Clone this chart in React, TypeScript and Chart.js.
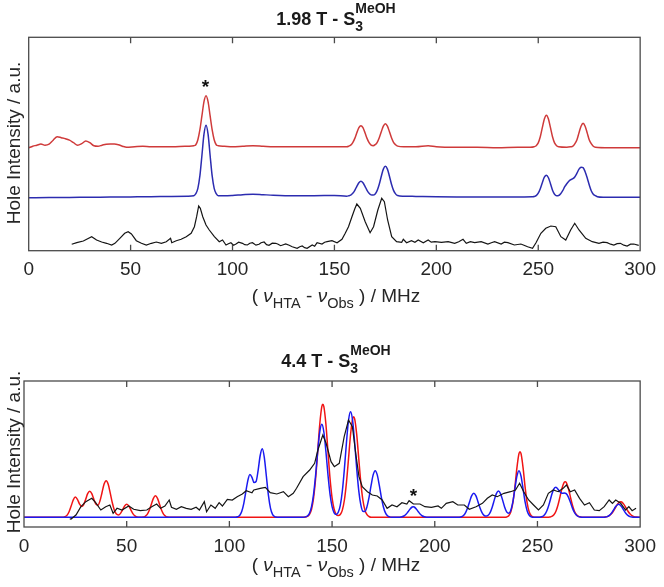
import React, { useEffect, useRef } from 'react';
import { Chart, registerables } from 'chart.js';

Chart.register(...registerables);

const FONT = "'Liberation Sans', Arial, Helvetica, sans-serif";

// x axis (MHz) tick labels, shared by both panels
const xTicks: number[] = [0, 50, 100, 150, 200, 250, 300];

// ---------- Top panel: 1.98 T (arbitrary units, traces offset vertically) ----------
const topRed: [number, number][] = [
  [0, 103], [2, 104.5], [4, 105.5], [6, 106.7], [8, 105.5], [10, 106.5], [12, 110.5], [14, 114], [16, 113], [18, 112],
  [20, 110.5], [22, 108], [24, 105.5], [26, 107], [28, 109.7], [30, 108], [32, 105], [34, 104.5], [36, 105.5], [38, 106.5],
  [40, 106.7], [42, 106.7], [44, 106], [46, 104.5], [48, 103.4], [52, 104], [56, 104.5], [60, 104], [66, 104], [72, 104],
  [78, 104.5], [81, 105], [82, 106], [83, 111], [84, 121], [85, 135], [86, 149], [87, 155], [88, 149], [89, 135],
  [90, 121], [91, 111], [92, 106], [93, 105], [96, 104.5], [100, 104], [105, 104.5], [110, 105], [115, 104.5], [120, 104],
  [130, 104], [140, 104], [150, 104], [156, 104], [157, 104.5], [158, 105.6], [159, 108], [160, 112.3], [161, 117.9], [162, 123],
  [163, 125], [164, 123], [165, 117.9], [166, 112.3], [167, 108], [168, 105.6], [169, 105], [170, 106], [171, 108.4], [172, 113],
  [173, 119], [174, 124.5], [175, 127], [176, 124.5], [177, 119], [178, 113], [179, 108.4], [180, 106], [181, 104.6], [184, 104],
  [190, 104], [196, 105], [200, 104], [210, 103.5], [220, 103.5], [230, 103], [240, 103.5], [246, 103.5], [248, 104], [249, 105],
  [250, 107.8], [251, 113.9], [252, 123], [253, 131.7], [254, 135.5], [255, 131.7], [256, 123], [257, 113.9], [258, 107.8], [259, 105],
  [260, 104], [264, 103.5], [266, 104], [267, 104.5], [268, 107], [269, 111], [270, 118], [271, 124.5], [272, 127.5], [273, 124.5],
  [274, 118], [275, 111], [276, 107], [277, 104.5], [278, 103.5], [285, 103], [300, 103],
];

const topBlue: [number, number][] = [
  [0, 53], [10, 53.2], [20, 53.3], [30, 53.5], [40, 53.6], [50, 53.8], [60, 54], [70, 54.3], [78, 54.5], [81, 55],
  [82, 57], [83, 62.4], [84, 75], [85, 95.5], [86, 116.5], [87, 125.5], [88, 116.5], [89, 95.5], [90, 75], [91, 62.4],
  [92, 57], [93, 55], [96, 55], [100, 55.3], [105, 56], [110, 56.5], [115, 56], [120, 55.5], [130, 55], [140, 55],
  [150, 55.3], [156, 54.5], [157, 54.9], [158, 55.6], [159, 57.4], [160, 60.4], [161, 64.4], [162, 68], [163, 69.5], [164, 68],
  [165, 64.4], [166, 60.4], [167, 57.4], [168, 55.8], [169, 55.6], [170, 56.8], [171, 60.3], [172, 66.4], [173, 74.4], [174, 81.6],
  [175, 84.5], [176, 81.6], [177, 74.4], [178, 66.4], [179, 60.3], [180, 56.8], [181, 55.2], [184, 54.5], [190, 54.3], [200, 54],
  [210, 53.8], [220, 53.7], [230, 53.7], [240, 53.8], [247, 54], [248, 54.2], [249, 55], [250, 57.5], [251, 62], [252, 68],
  [253, 73.5], [254, 75.5], [255, 73], [256, 67], [257, 60.5], [258, 56.5], [259, 55], [260, 55.2], [261, 57], [262, 60],
  [263, 64], [264, 67], [265, 69.5], [266, 71], [267, 72], [268, 74], [269, 77.5], [270, 81.5], [271, 83.5], [272, 83],
  [273, 79], [274, 73], [275, 66], [276, 60], [277, 56.5], [278, 55], [279, 54], [282, 53.5], [300, 53.4],
];

const topBlack: [number, number][] = [
  [21.1, 6.4], [23.6, 8], [26.8, 9.7], [30.9, 14], [33.3, 10.7], [35.8, 8.7], [38.2, 7.4], [40.7, 5.7], [42.3, 7.4], [44.7, 12.4],
  [47.1, 17.4], [48.8, 19], [50.4, 16.7], [52.8, 10], [55.3, 7.4], [57.7, 5.7], [60.2, 7.4], [62.6, 8.7], [65.1, 7.4], [67.5, 9],
  [69.6, 12.4], [70.2, 8], [72.4, 10], [74.8, 11.4], [77.3, 14], [79.7, 17.4], [81.3, 24], [82.4, 34], [83.4, 44.7], [84.2, 42.4],
  [85.4, 34], [87, 25.7], [88.6, 20.7], [91.1, 14], [93.5, 9], [95.1, 10.7], [96.8, 5.7], [98, 7], [99.2, 8], [100.5, 5.5],
  [101.7, 6.7], [103, 8.5], [104.9, 7.4], [106, 6], [107.3, 5.7], [108.5, 7.5], [109.8, 8], [111.5, 5.5], [113, 6.4], [114, 8],
  [115.5, 8.7], [116.7, 6], [117.9, 5.4], [119.5, 7.5], [121.2, 7.4], [122.4, 6.5], [123.6, 5], [126.1, 6.7], [127.8, 5.5], [129.3, 4],
  [131.7, 2.4], [133, 4], [134.2, 4.7], [135.4, 3], [136.6, 2.4], [139.1, 5.7], [140.3, 4.5], [141.5, 8], [143.9, 6.7], [145.2, 8.5],
  [146.4, 9], [148.8, 10], [151.3, 8], [153.7, 11.4], [155.3, 17.4], [156.9, 24], [158.6, 34], [160, 42], [161, 46.7], [162.7, 42.4],
  [165.1, 29], [167.5, 18], [169.2, 24], [171.3, 40.7], [173.2, 52.4], [174.5, 49], [176.1, 30.7], [178.1, 14], [180.5, 9], [183, 8.4],
  [183.8, 11.4], [185.4, 8], [187.8, 10], [189.5, 8.5], [191.1, 10.7], [193.6, 8], [196, 10.7], [197.5, 8.5], [199.3, 9], [202.5, 8.4],
  [205.8, 9], [209, 7.4], [211, 9], [213.1, 11.4], [214.7, 7.4], [216.7, 9], [218.8, 8], [222, 9], [225.3, 6.7], [227, 8],
  [228.6, 9], [231.8, 6.7], [233.4, 8.5], [235.1, 8], [238.3, 5.7], [241.5, 6.7], [243, 5.5], [244.8, 4], [247.2, 2.4], [248.9, 8],
  [251.3, 17.4], [253.7, 22.4], [256.2, 24.7], [258.6, 24], [261.1, 14], [263.5, 10.7], [265.9, 20.7], [267.9, 27.4], [270, 20.7], [273.3, 12.4],
  [276.5, 9], [279.8, 7.4], [281.8, 8.5], [283.8, 8], [285.5, 6.5], [287.1, 5.7], [288.7, 7], [290.3, 7.4], [292, 5.5], [293.6, 4.7],
  [295.3, 6.5], [296.9, 6.7], [299.3, 5.4],
];

// ---------- Bottom panel: 4.4 T ----------
const botRed: [number, number][] = [
  [0, 0], [18, 0], [19, 0.1], [20, 0.6], [21, 2.2], [22, 5.8], [23, 11.5], [24, 17.4], [25, 20.2], [26, 18],
  [27, 13.5], [28, 10.8], [29, 12.5], [30, 17.8], [31, 23.6], [32, 26], [33, 23.7], [34, 18.1], [35, 13.1], [36, 12],
  [37, 16.5], [38, 24.8], [39, 33.2], [40, 36.6], [41, 33], [42, 24.2], [43, 14.5], [44, 7.1], [45, 3.2], [46, 2.3],
  [47, 3.9], [48, 7.5], [49, 11.3], [50, 13], [51, 11.3], [52, 7.5], [53, 3.7], [54, 1.4], [55, 0.4], [56, 0],
  [57, 0], [58, 0.2], [59, 1], [60, 2.9], [61, 7], [62, 13.1], [63, 19], [64, 21.6], [65, 19], [66, 13.1],
  [67, 7], [68, 2.9], [69, 1], [70, 0.2], [71, 0], [136, 0], [137, 0.3], [138, 0.9], [139, 2.9], [140, 8.1],
  [141, 19.4], [142, 39], [143, 65.7], [144, 93], [145, 110.6], [145.5, 113], [146, 110.6], [147, 93], [148, 65.7], [149, 39],
  [150, 19.4], [151, 8.1], [152, 2.9], [153, 1.7], [154, 2.8], [155, 7.2], [156, 17.3], [157, 34.7], [158, 58.4], [159, 82.8],
  [160, 98.5], [160.5, 100.6], [161, 98.5], [162, 82.8], [163, 58.4], [164, 34.7], [165, 17.3], [166, 7.2], [167, 2.6], [168, 0.8],
  [169, 0], [234, 0], [235, 0.3], [236, 1.5], [237, 5.2], [238, 14.2], [239, 30], [240, 49.5], [241, 63.6], [241.5, 65.6],
  [242, 63.6], [243, 49.5], [244, 30], [245, 14.2], [246, 5.2], [247, 1.5], [248, 0.3], [249, 0], [255, 0], [256, 0.3],
  [257, 0.9], [258, 2.6], [259, 6.1], [260, 12.3], [261, 20.7], [262, 29.3], [263, 34.9], [263.5, 35.6], [264, 34.9], [265, 29.3],
  [266, 20.7], [267, 12.3], [268, 6.1], [269, 2.6], [270, 0.9], [271, 0.3], [272, 0], [282, 0], [283, 0.2], [284, 0.7],
  [285, 1.7], [286, 3.5], [287, 6.3], [288, 9.8], [289, 13.2], [290, 15.3], [290.5, 15.6], [291, 15.3], [292, 13.2], [293, 9.8],
  [294, 6.3], [295, 3.5], [296, 1.7], [297, 0.7], [298, 0.2], [300, 0],
];

const botBlue: [number, number][] = [
  [0, 0], [103, 0], [104, 0.5], [105, 1.8], [106, 5.7], [107, 13.7], [108, 25.5], [109, 37], [110, 42.8], [111, 40],
  [112, 34.7], [113, 35.8], [114, 47], [115, 61.8], [116, 68.5], [117, 60], [118, 41.3], [119, 22.1], [120, 9.2], [121, 3],
  [122, 0.75], [123, 0.15], [124, 0], [136, 0], [137, 0.4], [138, 1.3], [139, 4.1], [140, 10.6], [141, 23.2], [142, 42.6],
  [143, 65.8], [144, 85.3], [145, 93], [146, 85.3], [147, 65.8], [148, 42.6], [149, 23.2], [150, 10.7], [151, 4.5], [152, 2.8],
  [153, 5], [154, 12], [155, 26.3], [156, 48.4], [157, 74.7], [158, 96.8], [159, 105.6], [160, 96.8], [161, 74.7], [162, 48.4],
  [163, 26.4], [164, 12.5], [165, 6.1], [166, 5.9], [167, 10.7], [168, 19.9], [169, 31.9], [170, 42.4], [171, 46.6], [172, 42.4],
  [173, 31.9], [174, 19.9], [175, 10.3], [176, 4.4], [177, 1.5], [178, 0.4], [179, 0], [182, 0], [183, 0.1], [184, 0.5],
  [185, 1.3], [186, 3], [187, 5.6], [188, 8.4], [189, 10.3], [189.5, 10.6], [190, 10.3], [191, 8.4], [192, 5.6], [193, 3],
  [194, 1.3], [195, 0.5], [196, 0.1], [197, 0], [211, 0], [212, 0.1], [213, 0.6], [214, 1.8], [215, 4.6], [216, 9.5],
  [217, 15.9], [218, 21.6], [219, 24], [220, 21.6], [221, 15.9], [222, 9.5], [223, 4.6], [224, 1.9], [225, 1.2], [226, 2],
  [227, 5], [228, 10.4], [229, 17.4], [230, 23.7], [231, 26.3], [232, 23.7], [233, 17.4], [234, 10.4], [235, 5.5], [236, 4.1],
  [237, 6.9], [238, 15.1], [239, 28.3], [240, 41.1], [241, 46.6], [242, 41.1], [243, 28.3], [244, 15.1], [245, 6.3], [246, 2.1],
  [247, 0.5], [248, 0], [250, 0], [251, 0.1], [252, 0.5], [253, 1.6], [254, 4.1], [255, 8.8], [256, 15.5], [257, 23],
  [258, 28.5], [259, 30], [260, 28], [261, 25.5], [262, 24], [263, 24.3], [264, 23.7], [265, 20.5], [266, 15.2], [267, 9.4],
  [268, 4.8], [269, 2.1], [270, 0.7], [271, 0.2], [272, 0], [282, 0], [283, 0.2], [284, 0.7], [285, 1.9], [286, 4.1],
  [287, 7.2], [288, 10.5], [289, 12.7], [289.5, 13], [290, 12.7], [291, 10.5], [292, 7.2], [293, 4.1], [294, 1.9], [295, 0.7],
  [296, 0.2], [297, 0], [300, 0],
];

const botBlack: [number, number][] = [
  [22.3, -1.5], [22.9, -1.7], [25.3, 2.3], [27.7, 10.6], [30.1, 15.6], [33, 19], [34.9, 14.6], [37.4, 7.3], [39.8, 10.6], [41.8, 12.3],
  [43.4, 4], [45.3, 9], [47.7, 7.3], [51, 11.3], [53.4, 8], [56.6, 6.6], [59.8, 7.3], [62.2, 10.6], [64.6, 13.3], [66.5, 9],
  [68.6, 11.3], [70.7, 17.3], [71.8, 10], [74.2, 8], [76.6, 10.6], [79, 9], [81.4, 8], [83.8, 10], [85.4, 7.3], [87.8, 15.6],
  [88.9, 5.6], [91, 12.3], [93.1, 9], [95, 14.6], [96.6, 11.3], [99, 18], [101.4, 17.3], [103.8, 20.6], [106.3, 23.3], [108.2, 26.6],
  [111, 24.6], [111.9, 27.3], [115, 29], [117.5, 30], [119.9, 24.6], [123.1, 23.3], [126.3, 25.6], [128.7, 20.6], [131.1, 24], [132.7, 29],
  [135.9, 40.6], [139.1, 47.3], [141.5, 54], [143.1, 67.3], [145.5, 82.3], [147.1, 74], [149.5, 55.6], [151.1, 50.6], [153.5, 54], [155.9, 80.6],
  [158, 97.3], [159.9, 90.6], [161.5, 64], [163.1, 40.6], [164.7, 30.6], [167.2, 25.6], [169.6, 22.3], [172, 21.3], [174.4, 17.3], [176.8, 9],
  [179.2, 12.3], [181.6, 10.6], [184, 14.6], [186.4, 13.3], [187.5, 16.6], [189.6, 13.3], [192.8, 13.3], [195.2, 10.6], [198.4, 10], [201.6, 11.3],
  [203.2, 9], [205.6, 14], [208.8, 15.6], [211.2, 12.3], [214.4, 12.3], [216.8, 8], [220.1, 10.6], [223.2, 14], [225.6, 19], [228, 22.3],
  [230.4, 20.6], [233.7, 24], [236.9, 25.6], [239.3, 27.3], [241.3, 34], [243.3, 25.6], [245.7, 17.3], [248.1, 12.3], [250.5, 7.3], [252.9, 12.3],
  [255.3, 24], [257.7, 27.3], [260.1, 25.6], [262.5, 29], [264.1, 32.3], [266, 25.6], [268.1, 27.3], [270.5, 19], [272.9, 12.3], [275.3, 14.6],
  [277.7, 7.3], [280.1, 6.6], [282.5, 10.6], [284.9, 17.3], [286.5, 14], [288.1, 17.3], [290.5, 14], [292.9, 7.3], [294.5, 10.6], [296.1, 6.6],
  [298, 9],
];

// asterisk markers (MHz, intensity)
const topStar: [number, number] = [86.7, 169];
const botStar: [number, number] = [189.6, 26.3];

const toPts = (a: [number, number][]) => a.map(([x, y]) => ({ x, y }));

const framePlugin = {
  id: 'frame',
  afterDatasetsDraw(chart: any, _args: any, opts: any) {
    const { ctx, chartArea, scales } = chart;
    const { left, right, top, bottom } = chartArea;
    ctx.save();
    ctx.strokeStyle = '#4a4a4a';
    ctx.lineWidth = 1.3;
    ctx.strokeRect(left, top, right - left, bottom - top);
    ctx.beginPath();
    xTicks.forEach((v) => {
      if (v === 0 || v === 300) return;
      const px = scales.x.getPixelForValue(v);
      ctx.moveTo(px, bottom);
      ctx.lineTo(px, bottom - 6);
      ctx.moveTo(px, top);
      ctx.lineTo(px, top + 6);
    });
    ctx.stroke();
    if (opts && opts.star) {
      const [sx, sy] = opts.star;
      ctx.fillStyle = '#111';
      ctx.font = `bold 19px ${FONT}`;
      ctx.textAlign = 'center';
      ctx.textBaseline = 'alphabetic';
      ctx.fillText('*', scales.x.getPixelForValue(sx), scales.y.getPixelForValue(sy) + 0.57 * 19);
    }
    ctx.restore();
  },
};

interface PanelSpec {
  width: number;
  height: number;
  left: number;
  right: number;
  top: number;
  bottom: number;
  yMin: number;
  yMax: number;
  red: [number, number][];
  blue: [number, number][];
  black: [number, number][];
  redColor: string;
  blueColor: string;
  star: [number, number];
}

function Panel({ spec, style }: { spec: PanelSpec; style: React.CSSProperties }) {
  const ref = useRef<HTMLCanvasElement | null>(null);
  useEffect(() => {
    if (!ref.current) return;
    const p = spec;
    const chart = new Chart(ref.current, {
      type: 'line',
      data: {
        datasets: [
          { data: toPts(p.black), borderColor: '#151515', borderWidth: 1.2, pointRadius: 0, tension: 0, fill: false },
          { data: toPts(p.blue), borderColor: p.blueColor, borderWidth: 1.5, pointRadius: 0, cubicInterpolationMode: 'monotone', fill: false },
          { data: toPts(p.red), borderColor: p.redColor, borderWidth: 1.5, pointRadius: 0, cubicInterpolationMode: 'monotone', fill: false },
        ],
      } as any,
      options: {
        animation: false,
        responsive: false,
        events: [],
        layout: { padding: { left: p.left, right: p.width - p.right, top: p.top, bottom: 0 } },
        plugins: {
          legend: { display: false },
          tooltip: { enabled: false },
          frame: { star: p.star },
        } as any,
        scales: {
          x: {
            type: 'linear',
            min: 0,
            max: 300,
            afterBuildTicks: (s: any) => {
              s.ticks = xTicks.map((v) => ({ value: v }));
            },
            grid: { display: false, drawTicks: false },
            border: { display: false },
            ticks: {
              font: { family: FONT, size: 19 },
              color: '#262626',
              padding: 8,
              maxRotation: 0,
              autoSkip: false,
            },
            afterFit: (s: any) => {
              s.height = p.height - p.bottom;
            },
          },
          y: { type: 'linear', display: false, min: p.yMin, max: p.yMax },
        },
      } as any,
      plugins: [framePlugin as any],
    });
    return () => chart.destroy();
  }, [spec]);
  return <canvas ref={ref} width={spec.width} height={spec.height} style={{ ...style, width: spec.width, height: spec.height, display: 'block' }} />;
}

const topSpec: PanelSpec = {
  width: 664, height: 290, left: 28.7, right: 643, top: 37.3, bottom: 250.7,
  yMin: 0, yMax: 213.4,
  red: topRed, blue: topBlue, black: topBlack,
  redColor: '#cf3a3a', blueColor: '#2c2cb0', star: topStar,
};

const botSpec: PanelSpec = {
  width: 664, height: 240, left: 24, right: 648, top: 51, bottom: 197,
  yMin: -9.7, yMax: 136.3,
  red: botRed, blue: botBlue, black: botBlack,
  redColor: '#f01414', blueColor: '#1a1af0', star: botStar,
};

function Title({ text, baseline }: { text: string; baseline: number }) {
  return (
    <div
      style={{
        position: 'absolute', left: 4, width: 664, top: baseline - 15.24, textAlign: 'center',
        fontFamily: FONT, fontWeight: 'bold', fontSize: 18, lineHeight: '18px', whiteSpace: 'nowrap', color: '#1a1a1a',
      }}
    >
      {text}
      <span style={{ position: 'relative', fontSize: 14, top: -12 }}>
        MeOH
        <span style={{ position: 'absolute', left: 0, top: 18.8, lineHeight: '14px' }}>3</span>
      </span>
    </div>
  );
}

function XTitle({ baseline }: { baseline: number }) {
  const sub: React.CSSProperties = { position: 'relative', top: 6, fontSize: 14.5 };
  return (
    <div
      style={{
        position: 'absolute', left: 4, width: 664, top: baseline - 16.6, textAlign: 'center',
        fontFamily: FONT, fontSize: 19, lineHeight: '20px', whiteSpace: 'nowrap', color: '#262626',
      }}
    >
      ( <i>ν</i><span style={sub}>HTA</span> - <i>ν</i><span style={sub}>Obs</span> ) / MHz
    </div>
  );
}

function YTitle({ cy }: { cy: number }) {
  return (
    <div
      style={{
        position: 'absolute', left: 14 - 100, top: cy - 10, width: 200, height: 20, lineHeight: '20px',
        textAlign: 'center', transform: 'rotate(-90deg)', fontFamily: FONT, fontSize: 19, color: '#262626', whiteSpace: 'nowrap',
      }}
    >
      Hole Intensity / a.u.
    </div>
  );
}

export default function App() {
  return (
    <div style={{ position: 'fixed', left: 0, top: 0, width: 664, height: 587, background: '#fff', overflow: 'hidden' }}>
      <Panel spec={topSpec} style={{ position: 'absolute', left: 0, top: 0 }} />
      <Panel spec={botSpec} style={{ position: 'absolute', left: 0, top: 330 }} />
      <Title text="1.98 T - S" baseline={25} />
      <Title text="4.4 T - S" baseline={367.3} />
      <XTitle baseline={303} />
      <XTitle baseline={572} />
      <YTitle cy={143} />
      <YTitle cy={452} />
    </div>
  );
}
